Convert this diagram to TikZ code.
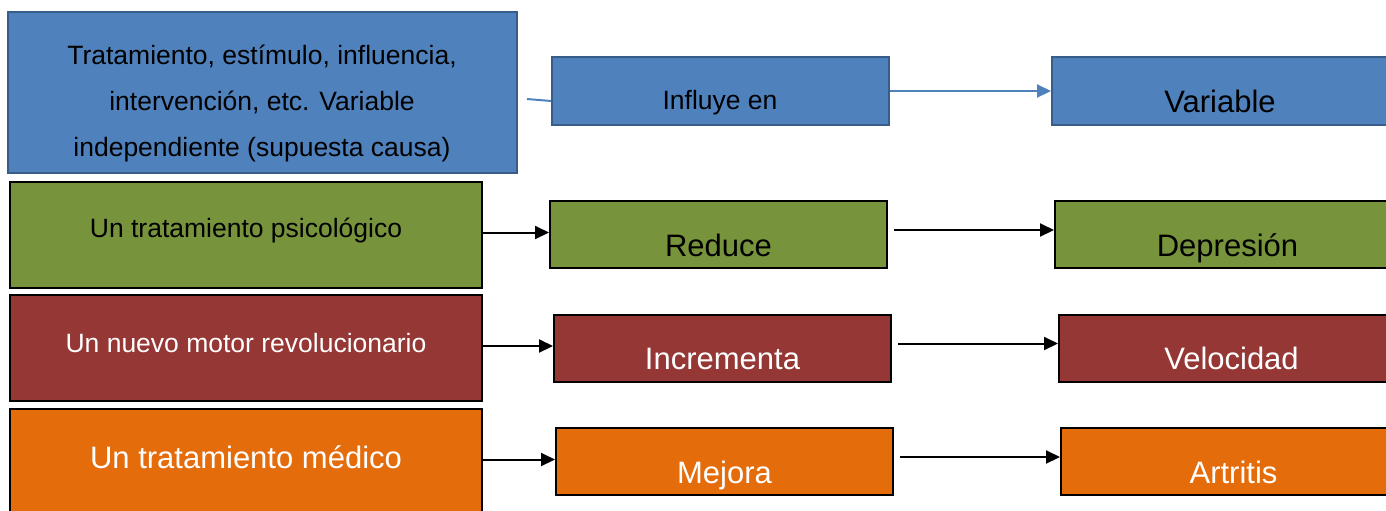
\documentclass[tikz,border=0pt]{standalone}
\usepackage{fontspec}
\setmainfont{Liberation Sans}
\usetikzlibrary{arrows.meta, positioning}
\definecolor{vBlue}{HTML}{4F81BD}
\definecolor{vBlueLine}{HTML}{385D8A}
\definecolor{vGreen}{HTML}{77933C}
\definecolor{vRed}{HTML}{953735}
\definecolor{vOrange}{HTML}{E46C0A}
\newcommand{\smalltxt}{\fontsize{13.25pt}{23pt}\selectfont}
\newcommand{\largetxt}{\fontsize{15.5pt}{19pt}\selectfont}

\begin{document}
\begin{tikzpicture}[x=0.5pt, y=-0.5pt,
    bluebox/.style={draw=vBlueLine, line width=1pt, fill=vBlue, inner sep=0pt},
    rowbox/.style={draw=black, line width=1pt, inner sep=0pt},
    txt/.style={inner sep=0pt, align=center},
    blueline/.style={draw=vBlue, line width=1pt},
    rowarrow/.style={draw=black, line width=1pt, -{Triangle[length=7pt, width=6.5pt]}}]
  \clip (0,0) rectangle (1386,510);
  % top row: the general scheme
  \node[bluebox, minimum width=254.5pt, minimum height=80.5pt] (cause) at (262.5,92.5) {};
  \node[txt, font=\smalltxt] (cause-t) at (262,103)
    {Tratamiento, estímulo, influencia,\\intervención, etc. Variable\\independiente (supuesta causa)};
  \node[bluebox, minimum width=168.5pt, minimum height=34pt] (influye) at (720.5,91) {};
  \node[txt, font=\smalltxt] (influye-t) at (720,103) {Influye en};
  \node[bluebox, minimum width=174pt, minimum height=34pt] (variable) at (1226,91) {};
  \node[txt, font=\largetxt] (variable-t) at (1220,101) {Variable};
  \coordinate (cause-gap) at (527,99);
  \draw[blueline] (cause-gap) -- ([yshift=-5pt]influye.west);
  \draw[blueline, -{Triangle[length=7pt, width=6.5pt]}] (influye) -- (variable);
  % example rows
  \foreach \dy/\dx/\fillc/\txtc/\srcfont/\src/\act/\dst [count=\i] in
    {0/0/vGreen/black/\smalltxt/Un tratamiento psicológico/Reduce/Depresión,
     113.5/4/vRed/white/\smalltxt/Un nuevo motor revolucionario/Incrementa/Velocidad,
     227/6/vOrange/white/\largetxt/Un tratamiento médico/Mejora/Artritis} {
    \node[rowbox, fill=\fillc, minimum width=236pt, minimum height=53pt] (src\i) at (246,234.5+\dy) {};
    \node[txt, text=\txtc, font=\srcfont] (src\i-t) at ([yshift=2.25pt]src\i.center) {\src};
    \node[rowbox, fill=\fillc, minimum width=168.5pt, minimum height=33.5pt] (act\i) at (718.5+\dx,234.5+\dy) {};
    \node[txt, text=\txtc, font=\largetxt, anchor=base] (act\i-t) at ([yshift=-10.75pt]act\i.center) {\act};
    \node[rowbox, fill=\fillc, minimum width=172.5pt, minimum height=33.5pt] (dst\i) at (1227.5+\dx,234.5+\dy) {};
    \node[txt, text=\txtc, font=\largetxt, anchor=base] (dst\i-t) at ([yshift=-10.75pt]dst\i.center) {\dst};
    \draw[rowarrow] ([yshift=1pt]src\i.east) -- ([yshift=1pt]act\i.west);
    \draw[rowarrow, shorten <=3pt] ([yshift=2.25pt]act\i.east) -- ([yshift=2.25pt]dst\i.west);
  }
\end{tikzpicture}
\end{document}
